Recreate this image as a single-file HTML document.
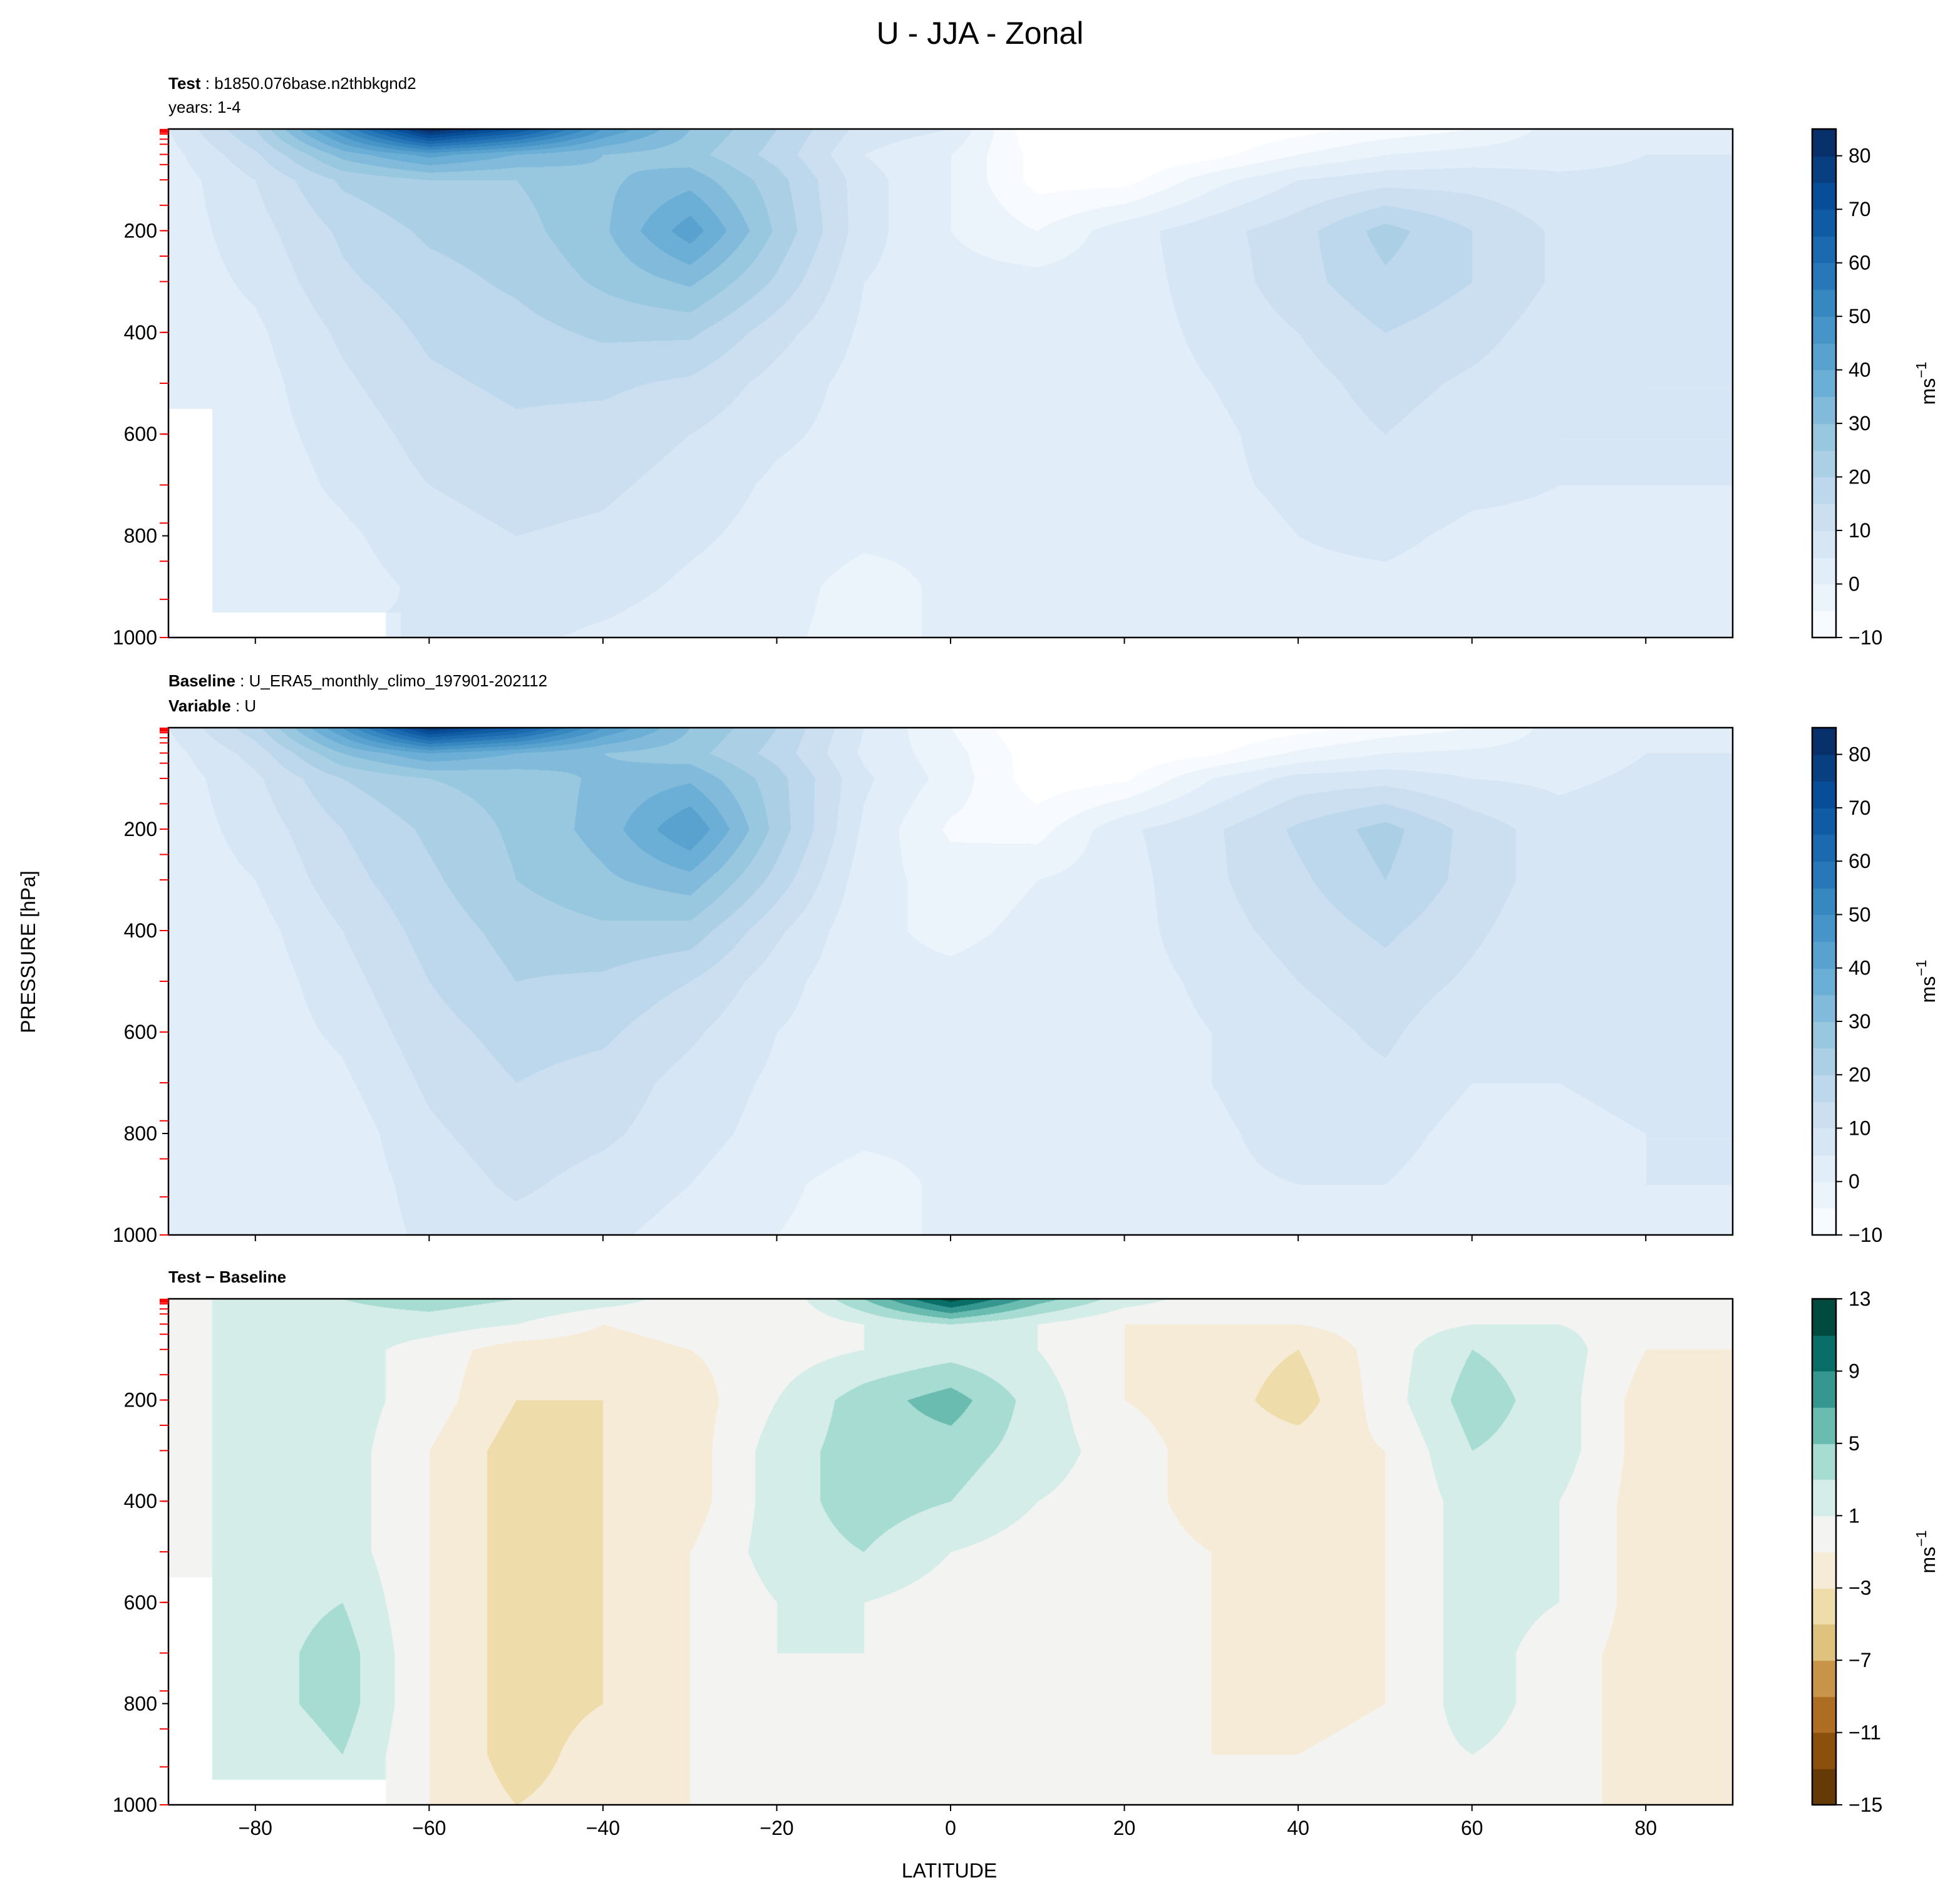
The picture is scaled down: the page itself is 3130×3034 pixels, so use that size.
<!DOCTYPE html>
<html><head><meta charset="utf-8">
<style>
body{margin:0;background:#fff;}
#wrap{position:relative;width:3130px;height:3034px;overflow:hidden;font-family:"Liberation Sans","DejaVu Sans",sans-serif;}
canvas{position:absolute;}
svg{position:absolute;left:0;top:0;}
</style></head>
<body>
<div id="wrap">
<canvas id="c0"></canvas>
<canvas id="c1"></canvas>
<canvas id="c2"></canvas>
<canvas id="cb0"></canvas>
<canvas id="cb1"></canvas>
<canvas id="cb2"></canvas>
<svg id="ov" width="3130" height="3034" xmlns="http://www.w3.org/2000/svg"></svg>
</div>
<script>
const lats=[-90,-80,-70,-60,-50,-40,-30,-20,-10,0,10,20,30,40,50,60,70,80,90];
const pressures=[0,50,100,200,300,400,500,600,700,800,900,1000];
const N=null;
const testU=[
[5,20,50,85,70,45,30,20,8,5,-15,-15,-15,-12,-8,-5,2,3,3],
[3,14,32,42,35,30,27,18,5,0,-12,-15,-12,-5,0,2,3,5,5],
[2,10,21,25,25,29,33,22,7,0,-12,-12,-2,5,8,8,6,6,6],
[2,8,16,21,23,29,43,24,7,0,-5,3,8,13,22,15,9,7,7],
[2,6,14,18,21,26,31,19,5,2,2,3,7,13,19,15,9,7,7],
[2,4,11,16,18,21,21,12,4,2,2,3,6,10,15,12,7,6,6],
[0,3,9,14,16,16,14,8,3,2,2,3,5,8,12,9,6,5,5],
[N,3,7,12,14,13,10,6,3,2,2,3,4,7,10,7,5,5,5],
[N,2,6,10,12,11,8,4,2,1,2,3,4,6,8,6,5,5,5],
[N,2,4,8,10,9,6,3,1,1,4,2,3,5,6,4,4,4,4],
[N,2,3,6,8,7,4,2,-2,1,4,2,3,4,4,3,3,4,4],
[N,N,N,5,6,4,2,1,-2,1,2,1,2,3,3,1,2,3,3]];
const baseU=[
[5,18,45,80,68,45,30,20,5,-5,-15,-15,-15,-12,-8,-5,2,3,3],
[3,12,30,40,35,30,27,18,4,-3,-13,-14,-11,-4,0,1,2,5,5],
[2,9,20,25,27,31,34,22,6,-2,-13,-11,0,7,8,5,4,6,6],
[2,7,15,21,26,32,45,23,4,-6,-7,4,9,16,22,13,7,8,8],
[2,5,13,19,25,29,33,18,2,-2,0,3,9,14,20,13,7,8,8],
[2,3,10,17,22,24,23,11,1,-1,1,3,8,12,16,11,6,7,7],
[1,2,8,15,20,19,15,7,1,1,2,3,6,10,13,9,5,6,6],
[1,2,6,13,17,16,11,5,2,2,2,3,5,8,11,6,5,6,6],
[1,1,4,11,15,13,8,4,1,1,2,3,5,8,9,5,5,6,6],
[1,1,2,9,13,11,7,3,1,1,4,2,4,7,7,3,4,5,5],
[1,1,2,7,11,8,5,1,-2,1,4,3,4,5,5,2,3,5,5],
[1,1,2,6,8,6,3,0,-2,1,2,2,3,3,2,1,2,4,4]];
const diffU=[
[0,2,3,4,3,2,0,-1,5,12,6,2,0,0,0,0,0,0,0],
[0,2,2,2,1,-1,0,-1,1,3,1,-1,-1,-1,0,1,1,0,0],
[0,2,2,0,-2,-2,-1,0,1,2,1,-1,-2,-3,0,3,2,-1,-1],
[0,2,2,0,-3,-3,-2,1,4,6,2,-1,-2,-4,0,4,2,-2,-1],
[0,2,2,-1,-4,-3,-2,2,4,4,2,0,-2,-2,-1,3,2,-2,-2],
[0,2,2,-1,-4,-3,-2,2,4,3,1,0,-2,-2,-1,2,1,-2,-2],
[0,2,2,-1,-4,-3,-1,2,3,1,0,0,-1,-2,-1,2,1,-2,-2],
[N,2,3,-1,-4,-3,-1,1,1,0,0,0,-1,-2,-1,2,1,-2,-2],
[N,2,4,-1,-4,-3,-1,1,1,0,0,0,-1,-2,-1,2,0,-2,-2],
[N,2,4,-1,-4,-3,-1,1,0,0,0,0,-1,-2,-1,2,0,-2,-1],
[N,1,3,-1,-4,-2,-1,1,0,0,0,-1,-1,-1,0,1,0,-2,-1],
[N,N,N,-1,-3,-2,-1,1,0,0,0,-1,-1,0,1,0,0,-2,-1]];
const blueLevels=[-10,-5,0,5,10,15,20,25,30,35,40,45,50,55,60,65,70,75,80,85];
const blueTicks=[-10,0,10,20,30,40,50,60,70,80];
const diffLevels=[-15,-13,-11,-9,-7,-5,-3,-1,1,3,5,7,9,11,13];
const diffTicks=[-15,-11,-7,-3,1,5,9,13];
const latTicks=[-80,-60,-40,-20,0,20,40,60,80];
const pTicks=[200,400,600,800,1000];
const redTicks=[1,3,5,7,10,20,30,50,70,100,150,200,250,300,400,500,600,700,775,850,925,1000];

const diffColors=['#653a06','#8b500c','#ad6e24','#c8944a','#dfc27d','#efdcab','#f6ebd6','#f3f4f2','#d5ede9','#a6dcd2','#6bbcb0','#35978f','#0a6e68','#004a3f'];
const bluesStops=['#f7fbff','#deebf7','#c6dbef','#9ecae1','#6baed6','#4292c6','#2171b5','#08519c','#08306b'];
function hex(h){return [parseInt(h.substr(1,2),16),parseInt(h.substr(3,2),16),parseInt(h.substr(5,2),16)];}
function bluesAt(t){const s=t*(bluesStops.length-1);const i=Math.min(Math.floor(s),bluesStops.length-2);const f=s-i;const a=hex(bluesStops[i]),b=hex(bluesStops[i+1]);return [0,1,2].map(k=>Math.round(a[k]+(b[k]-a[k])*f));}
const nb=blueLevels.length-1;
const blueColors=[];for(let i=0;i<nb;i++)blueColors.push(bluesAt(i/(nb-1)));
const diffRGB=diffColors.map(hex);

const X0=269,X1=2767;
const panels=[{y0:206,y1:1018},{y0:1162,y1:1972},{y0:2074,y1:2882}];
function xs(lat){return X0+(lat+90)/180*(X1-X0);}
function ys(p,pn){return pn.y0+p/1000*(pn.y1-pn.y0);}

function sample(grid,lat,p){
  let i=0;while(i<lats.length-2&&lat>lats[i+1])i++;
  let j=0;while(j<pressures.length-2&&p>pressures[j+1])j++;
  const fx=(lat-lats[i])/(lats[i+1]-lats[i]);const fy=(p-pressures[j])/(pressures[j+1]-pressures[j]);
  const ni=fx<0.5?i:i+1,nj=fy<0.5?j:j+1;
  if(grid[nj][ni]===null)return null;
  const g=(a,b)=>{const v=grid[a][b];return v===null?grid[nj][ni]:v;};
  const a=g(j,i),b=g(j,i+1),c=g(j+1,i),d=g(j+1,i+1);
  return (a*(1-fx)+b*fx)*(1-fy)+(c*(1-fx)+d*fx)*fy;
}
function drawField(id,grid,pn,levels,colors){
  const c=document.getElementById(id);const W=X1-X0,H=pn.y1-pn.y0;
  c.width=W;c.height=H;c.style.left=X0+'px';c.style.top=pn.y0+'px';
  const ctx=c.getContext('2d');const img=ctx.createImageData(W,H);const d=img.data;
  for(let y=0;y<H;y++){const p=y/H*1000;for(let x=0;x<W;x++){const lat=-90+x/W*180;
    const v=sample(grid,lat,p);let col=[255,255,255];
    if(v!==null&&v>=levels[0]){let k=0;while(k<levels.length-2&&v>=levels[k+1])k++;col=colors[k];}
    const o=(y*W+x)*4;d[o]=col[0];d[o+1]=col[1];d[o+2]=col[2];d[o+3]=255;}}
  ctx.putImageData(img,0,0);
}
drawField('c0',testU,panels[0],blueLevels,blueColors);
drawField('c1',baseU,panels[1],blueLevels,blueColors);
drawField('c2',diffU,panels[2],diffLevels,diffRGB);

const CB0=2894,CB1=2932;
function drawBar(id,pn,levels,colors){
  const c=document.getElementById(id);const H=pn.y1-pn.y0;c.width=CB1-CB0;c.height=H;
  c.style.left=CB0+'px';c.style.top=pn.y0+'px';const ctx=c.getContext('2d');
  const n=levels.length-1;
  for(let k=0;k<n;k++){const col=colors[k];ctx.fillStyle='rgb('+col.join(',')+')';
    const ya=H-(k+1)/n*H,yb=H-k/n*H;ctx.fillRect(0,Math.floor(ya),CB1-CB0,Math.ceil(yb-ya)+1);}
}
drawBar('cb0',panels[0],blueLevels,blueColors);
drawBar('cb1',panels[1],blueLevels,blueColors);
drawBar('cb2',panels[2],diffLevels,diffRGB);

const svg=document.getElementById('ov');const NS='http://www.w3.org/2000/svg';
function el(tag,attrs,parent){const e=document.createElementNS(NS,tag);for(const k in attrs)e.setAttribute(k,attrs[k]);(parent||svg).appendChild(e);return e;}
function txt(s,x,y,size,anchor,extra){const t=el('text',Object.assign({x:x,y:y,'font-size':size,'text-anchor':anchor||'start',fill:'#000'},extra||{}));t.textContent=s;return t;}

panels.forEach((pn,pi)=>{
  const fr=el('rect',{x:X0,y:pn.y0,width:X1-X0,height:pn.y1-pn.y0,fill:'none',stroke:'#000','stroke-width':2.5});
  
  
  latTicks.forEach(l=>{const x=xs(l);
    const tk=el('line',{x1:x,x2:x,y1:pn.y1,y2:pn.y1+10,stroke:'#000','stroke-width':2});
    
    
    if(pi===2){const t=txt(l<0?'\u2212'+(-l):''+l,x,pn.y1+48,32,'middle');
      
      }
  });
  pTicks.forEach(p=>{const y=ys(p,pn);
    const tk=el('line',{x1:X0-10,x2:X0,y1:y,y2:y,stroke:'#000','stroke-width':2});
    
    
    const t=txt(''+p,X0-18,y+11,32,'end');
    
    
  });
  redTicks.forEach(p=>{const y=ys(p,pn);
    const r=el('line',{x1:X0-14,x2:X0,y1:y,y2:y,stroke:'#ff0000','stroke-width':2});
    
    
  });
  const levels=pi===2?diffLevels:blueLevels,ticks=pi===2?diffTicks:blueTicks;
  const cbr=el('rect',{x:CB0,y:pn.y0,width:CB1-CB0,height:pn.y1-pn.y0,fill:'none',stroke:'#000','stroke-width':2.5});
  
  
  const lo=levels[0],hi=levels[levels.length-1];
  ticks.forEach(v=>{const y=pn.y1-(v-lo)/(hi-lo)*(pn.y1-pn.y0);
    const tk=el('line',{x1:CB1,x2:CB1+10,y1:y,y2:y,stroke:'#000','stroke-width':2});
    
    
    const t=txt(v<0?'\u2212'+(-v):''+v,CB1+20,y+11,32,'start');
    
    
  });
  const cy=(pn.y0+pn.y1)/2;
  const u=el('text',{x:3090,y:cy,'font-size':32,'text-anchor':'middle',transform:'rotate(-90 3090 '+cy+')'});
  u.innerHTML='ms<tspan dy="-14" font-size="23">\u22121</tspan>';
  
  
});

let t=txt('U - JJA - Zonal',1565,70,50,'middle');


function bl(bold,rest,y,name){const e=el('text',{x:X0,y:y,'font-size':26});
  e.innerHTML='<tspan font-weight="bold">'+bold+'</tspan>'+rest;
  
  }
bl('Test',' : b1850.076base.n2thbkgnd2',142,'test-case-label');
t=txt('years: 1-4',X0,180,26,'start');


bl('Baseline',' : U_ERA5_monthly_climo_197901-202112',1096,'baseline-case-label');
bl('Variable',' : U',1136,'variable-label');
bl('Test \u2212 Baseline','',2048,'difference-title');
t=txt('LATITUDE',1516,2998,32,'middle');


t=el('text',{x:56,y:1520,'font-size':32,'text-anchor':'middle',transform:'rotate(-90 56 1520)'});
t.textContent='PRESSURE [hPa]';


</script>
</body></html>
